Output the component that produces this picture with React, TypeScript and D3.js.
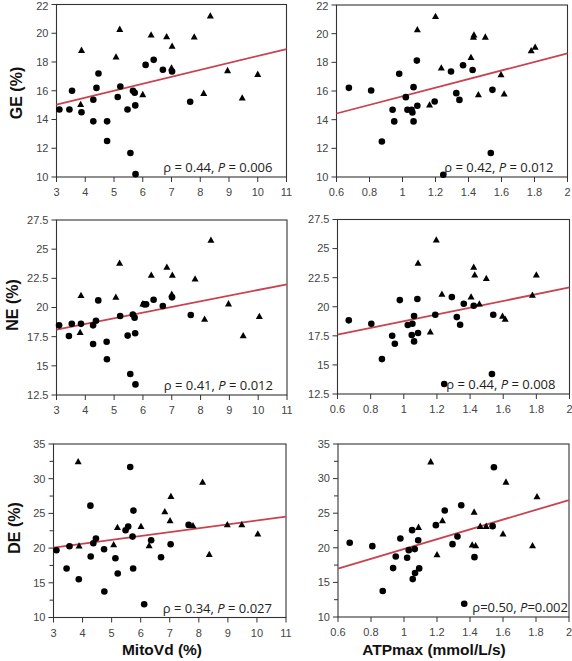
import React from "react";
import * as d3 from "d3";

type Pt = [number, number];

// ---- Data ----
const mitoTicks = [3, 4, 5, 6, 7, 8, 9, 10, 11];
const atpTicks = [0.6, 0.8, 1, 1.2, 1.4, 1.6, 1.8, 2];
const geTicks = [10, 12, 14, 16, 18, 20, 22];
const neTicks = [12.5, 15, 17.5, 20, 22.5, 25, 27.5];
const deTicks = [10, 15, 20, 25, 30, 35];
const deMinor = [12.5, 17.5, 22.5, 27.5, 32.5];

const geMitoCircles: Pt[] = [
  [3.1, 14.7], [3.45, 14.7], [3.54, 16.0], [3.87, 14.5], [4.28, 13.87], [4.28, 15.37],
  [4.39, 16.2], [4.46, 17.2], [4.76, 13.87], [4.76, 12.5], [5.13, 15.56], [5.22, 16.3],
  [5.47, 14.7], [5.57, 11.67], [5.66, 16.0], [5.72, 15.86], [5.74, 14.98], [5.75, 10.2],
  [6.1, 17.8], [6.38, 18.15], [6.7, 17.46], [7.02, 17.34], [7.65, 15.24],
];
const geMitoTriangles: Pt[] = [
  [3.87, 18.8], [3.84, 15.03], [5.2, 20.26], [5.07, 18.34], [6.0, 15.72], [6.29, 19.87],
  [6.83, 19.75], [7.02, 19.08], [7.0, 17.57], [7.79, 19.73], [8.12, 15.81], [8.35, 21.19],
  [8.95, 17.39], [9.46, 15.49], [10.0, 17.13],
];
const geAtpCircles: Pt[] = [
  [0.675, 16.22], [0.81, 16.04], [0.875, 12.48], [0.94, 14.69], [0.95, 13.88], [0.98, 17.2],
  [1.02, 15.57], [1.03, 14.69], [1.055, 14.69], [1.06, 14.5], [1.067, 16.27], [1.067, 13.88],
  [1.087, 18.12], [1.09, 14.97], [1.195, 15.27], [1.247, 10.16], [1.294, 17.36], [1.326, 15.85],
  [1.345, 15.38], [1.367, 17.8], [1.425, 17.47], [1.535, 11.67], [1.545, 16.08],
];
const geAtpTriangles: Pt[] = [
  [1.09, 20.26], [1.164, 15.01], [1.2, 21.19], [1.235, 17.59], [1.415, 18.33], [1.43, 19.75],
  [1.433, 19.9], [1.46, 15.73], [1.502, 19.75], [1.597, 17.13], [1.616, 15.78], [1.78, 18.8],
  [1.804, 19.05],
];
const neMitoCircles: Pt[] = [
  [3.09, 18.47], [3.43, 17.56], [3.53, 18.6], [3.85, 18.6], [4.27, 18.47], [4.27, 16.87],
  [4.37, 18.87], [4.45, 20.61], [4.74, 17.07], [4.75, 15.56], [5.21, 19.27], [5.47, 17.59],
  [5.56, 14.3], [5.65, 19.39], [5.71, 19.13], [5.73, 17.79], [5.74, 13.41], [6.04, 20.27],
  [6.11, 20.27], [6.37, 20.67], [6.69, 20.13], [7.01, 20.87], [7.66, 19.36],
];
const neMitoTriangles: Pt[] = [
  [3.85, 21.01], [3.82, 17.84], [5.19, 23.79], [5.06, 20.87], [6.0, 20.3], [6.29, 22.76],
  [6.83, 23.44], [7.02, 22.76], [7.0, 21.13], [7.81, 22.44], [8.14, 18.99], [8.36, 25.76],
  [8.97, 20.3], [9.48, 17.56], [10.04, 19.21],
];
const neAtpCircles: Pt[] = [
  [0.668, 18.83], [0.804, 18.54], [0.868, 15.5], [0.93, 17.51], [0.946, 16.82], [0.976, 20.57],
  [1.024, 18.43], [1.048, 17.57], [1.052, 18.54], [1.062, 19.2], [1.062, 17.02], [1.082, 20.66],
  [1.086, 17.74], [1.19, 19.31], [1.244, 13.36], [1.29, 20.83], [1.32, 19.11], [1.34, 18.45],
  [1.362, 20.26], [1.422, 20.09], [1.532, 14.22], [1.54, 19.31],
];
const neAtpTriangles: Pt[] = [
  [1.086, 23.72], [1.16, 17.82], [1.196, 25.73], [1.23, 21.06], [1.406, 20.83], [1.422, 23.38],
  [1.428, 22.72], [1.456, 20.23], [1.498, 22.41], [1.596, 19.17], [1.612, 18.91], [1.776, 20.97],
  [1.8, 22.72],
];
const deMitoCircles: Pt[] = [
  [3.1, 19.69], [3.45, 17.05], [3.55, 20.27], [3.87, 15.52], [4.27, 26.12], [4.28, 18.78],
  [4.37, 20.7], [4.46, 21.37], [4.74, 19.84], [4.75, 13.74], [5.13, 18.54], [5.21, 16.33],
  [5.48, 22.57], [5.57, 23.1], [5.64, 31.69], [5.72, 21.66], [5.75, 25.4], [5.74, 17.05],
  [6.12, 11.92], [6.36, 21.13], [6.7, 18.69], [7.03, 20.56], [7.65, 23.34],
];
const deMitoTriangles: Pt[] = [
  [3.85, 32.41], [3.88, 20.27], [5.2, 22.96], [5.07, 20.46], [6.01, 23.1], [6.29, 20.32],
  [6.83, 25.21], [7.04, 27.42], [7.01, 23.92], [7.8, 23.2], [8.13, 29.48], [8.36, 19.07],
  [8.98, 23.34], [9.48, 23.34], [10.03, 22.0],
];
const deAtpCircles: Pt[] = [
  [0.671, 20.72], [0.808, 20.24], [0.871, 13.75], [0.934, 17.07], [0.95, 18.75], [0.978, 21.35],
  [1.019, 18.56], [1.029, 19.66], [1.049, 22.55], [1.053, 15.48], [1.065, 19.81], [1.067, 16.35],
  [1.086, 21.1], [1.092, 17.02], [1.193, 23.27], [1.247, 25.38], [1.294, 20.53], [1.324, 21.63],
  [1.347, 26.15], [1.365, 11.92], [1.427, 18.65], [1.537, 23.13], [1.545, 31.63],
];
const deAtpTriangles: Pt[] = [
  [1.162, 32.4], [1.088, 22.93], [1.2, 18.99], [1.233, 23.89], [1.413, 20.38], [1.425, 25.14],
  [1.434, 20.29], [1.462, 23.08], [1.498, 23.08], [1.6, 21.97], [1.618, 29.47], [1.779, 20.29],
  [1.806, 27.36],
];

// regression line values at the ends of the x domain
const geMitoFit: Pt = [15.03, 18.9];
const geAtpFit: Pt = [14.43, 18.63];
const neMitoFit: Pt = [18.1, 21.99];
const neAtpFit: Pt = [17.6, 21.66];
const deMitoFit: Pt = [20.08, 24.54];
const deAtpFit: Pt = [17.0, 26.9];

const statLabels = [
  ["0.44", "0.006"],
  ["0.42", "0.012"],
  ["0.41", "0.012"],
  ["0.44", "0.008"],
  ["0.34", "0.027"],
  ["0.50", "0.002"],
];

const yTitles = ["GE (%)", "NE (%)", "DE (%)"];
const xTitles = ["MitoVd (%)", "ATPmax (mmol/L/s)"];

// ---- Layout ----
const RED = "#c9424f";
const AX = "#333";
const TICKFONT = "Liberation Sans, Arial, sans-serif";

interface PanelDef {
  frame: [number, number, number, number]; // x0, x1, yTop, yBottom
  xDomain: [number, number];
  yDomain: [number, number];
  xTicks: number[];
  yTicks: number[];
  yMinor?: number[];
  circles: Pt[];
  triangles: Pt[];
  fit: Pt;
  stat: string[];
  tight?: boolean;
}

const panels: PanelDef[] = [
  { frame: [56.5, 286.5, 4.5, 177], xDomain: [3, 11], yDomain: [10, 22], xTicks: mitoTicks, yTicks: geTicks, circles: geMitoCircles, triangles: geMitoTriangles, fit: geMitoFit, stat: statLabels[0] },
  { frame: [336.5, 567.5, 5, 177], xDomain: [0.6, 2], yDomain: [10, 22], xTicks: atpTicks, yTicks: geTicks, circles: geAtpCircles, triangles: geAtpTriangles, fit: geAtpFit, stat: statLabels[1] },
  { frame: [56.5, 287, 220, 395], xDomain: [3, 11], yDomain: [12.5, 27.5], xTicks: mitoTicks, yTicks: neTicks, circles: neMitoCircles, triangles: neMitoTriangles, fit: neMitoFit, stat: statLabels[2] },
  { frame: [337.5, 569.5, 219.5, 394], xDomain: [0.6, 2], yDomain: [12.5, 27.5], xTicks: atpTicks, yTicks: neTicks, circles: neAtpCircles, triangles: neAtpTriangles, fit: neAtpFit, stat: statLabels[3] },
  { frame: [53.5, 286, 444, 617.5], xDomain: [3, 11], yDomain: [10, 35], xTicks: mitoTicks, yTicks: deTicks, yMinor: deMinor, circles: deMitoCircles, triangles: deMitoTriangles, fit: deMitoFit, stat: statLabels[4] },
  { frame: [338, 569, 444, 617], xDomain: [0.6, 2], yDomain: [10, 35], xTicks: atpTicks, yTicks: deTicks, yMinor: deMinor, circles: deAtpCircles, triangles: deAtpTriangles, fit: deAtpFit, stat: statLabels[5], tight: true },
];

const triPath = (cx: number, cy: number, s: number) => {
  const h = s * 0.9;
  return `M${cx},${cy - h * 0.62}L${cx + s / 2},${cy + h * 0.38}L${cx - s / 2},${cy + h * 0.38}Z`;
};

function Panel({ p }: { p: PanelDef }) {
  const [x0, x1, yT, yB] = p.frame;
  const x = d3.scaleLinear().domain(p.xDomain).range([x0, x1]);
  const y = d3.scaleLinear().domain(p.yDomain).range([yB, yT]);
  const line = d3.line<Pt>().x((d) => x(d[0])).y((d) => y(d[1]));
  const fitPts: Pt[] = [
    [p.xDomain[0], p.fit[0]],
    [p.xDomain[1], p.fit[1]],
  ];
  const fmt = (v: number) => String(v);
  const eq = p.tight ? "=" : " = ";
  return (
    <g>
      {/* frame */}
      <rect x={x0} y={yT} width={x1 - x0} height={yB - yT} fill="none" stroke={AX} strokeWidth={1.1} />
      {/* y ticks */}
      {p.yTicks.map((t) => (
        <g key={"y" + t}>
          <line x1={x0 - 5} x2={x0} y1={y(t)} y2={y(t)} stroke={AX} strokeWidth={1} />
          <text x={x0 - 8} y={Math.max(y(t), 6)} dy="0.35em" textAnchor="end" fontSize={11} fill="#444" fontFamily={TICKFONT}>
            {fmt(t)}
          </text>
        </g>
      ))}
      {(p.yMinor || []).map((t) => (
        <line key={"m" + t} x1={x0 - 4} x2={x0} y1={y(t)} y2={y(t)} stroke={AX} strokeWidth={1} />
      ))}
      {/* x ticks */}
      {p.xTicks.map((t) => (
        <g key={"x" + t}>
          <line x1={x(t)} x2={x(t)} y1={yB} y2={yB + 5} stroke={AX} strokeWidth={1} />
          <text x={x(t)} y={yB + 19} textAnchor="middle" fontSize={11} fill="#444" fontFamily={TICKFONT}>
            {fmt(t)}
          </text>
        </g>
      ))}
      {/* regression */}
      <path d={line(fitPts) || ""} stroke={RED} strokeWidth={1.8} fill="none" />
      {/* points */}
      {p.circles.map((d, i) => (
        <circle key={"c" + i} cx={x(d[0])} cy={y(d[1])} r={3.3} fill="#000" />
      ))}
      {p.triangles.map((d, i) => (
        <path key={"t" + i} d={triPath(x(d[0]), y(d[1]), 7)} fill="#000" />
      ))}
      {/* stats */}
      <text
        x={x1 - (p.tight ? 1 : 14)}
        y={yB - 5}
        textAnchor="end"
        fontSize={13}
        fill="#222"
        fontFamily="Open Sans, sans-serif"
      >
        {"ρ" + eq + p.stat[0] + ", "}
        <tspan fontStyle="italic">P</tspan>
        {eq + p.stat[1]}
      </text>
    </g>
  );
}

export default function App() {
  const yTitlePos: [number, number][] = [
    [16, 93],
    [12, 305],
    [14, 528],
  ];
  const xTitlePos: [number, number][] = [
    [162, 655],
    [434, 655],
  ];
  return (
    <svg width={572} height={661} style={{ position: "absolute", left: 0, top: 0, background: "#fff" }}>
      <rect width={572} height={661} fill="#fff" />
      {panels.map((p, i) => (
        <Panel key={i} p={p} />
      ))}
      {yTitles.map((t, i) => (
        <text
          key={t}
          transform={`translate(${yTitlePos[i][0]},${yTitlePos[i][1]}) rotate(-90)`}
          textAnchor="middle"
          dy="0.35em"
          fontSize={16}
          fontWeight="bold"
          fontFamily="Liberation Sans, Arial, sans-serif"
          fill="#111"
        >
          {t}
        </text>
      ))}
      {xTitles.map((t, i) => (
        <text
          key={t}
          x={xTitlePos[i][0]}
          y={xTitlePos[i][1]}
          textAnchor="middle"
          fontSize={15.5}
          fontWeight="bold"
          fontFamily="Liberation Sans, Arial, sans-serif"
          fill="#111"
        >
          {t}
        </text>
      ))}
    </svg>
  );
}
